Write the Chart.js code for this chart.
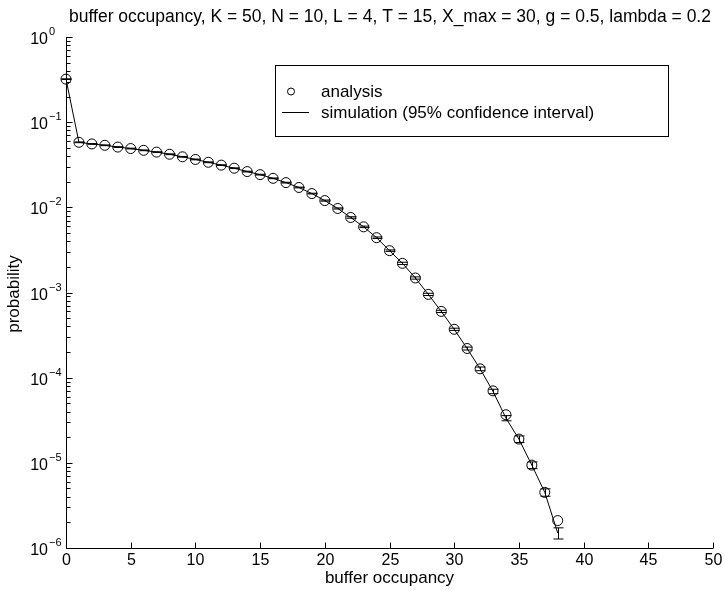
<!DOCTYPE html>
<html>
<head>
<meta charset="utf-8">
<script src="https://cdn.jsdelivr.net/npm/chart.js@4/dist/chart.umd.min.js"></script>
<style>
body{margin:0;background:#fff;}
</style>
</head>
<body>
<canvas id="chart" width="725" height="590"></canvas>
<script>

const occupancy = [0,1,2,3,4,5,6,7,8,9,10,11,12,13,14,15,16,17,18,19,20,21,22,23,24,25,26,27,28,29,30,31,32,33,34,35,36,37,38];

const analysis = [0.32,0.058,0.0555,0.0535,0.051,0.049,0.0467,0.0445,0.042,0.0392,
0.0365,0.0338,0.0313,0.0288,0.0263,0.0242,0.0219,0.0195,0.0171,0.0145,
0.012,0.0097,0.0076,0.0059,0.0044,0.0031,0.0022,0.00148,0.00095,0.0006,
0.00037,0.00022,0.000127,0.00007,0.0000367,0.000019,0.0000094,0.0000045,0.0000021];

const simulation = [0.32,0.058,0.0555,0.0535,0.051,0.049,0.0467,0.0445,0.042,0.0392,
0.0365,0.0338,0.0313,0.0288,0.0263,0.0242,0.0219,0.0195,0.0171,0.0145,
0.012,0.0097,0.0076,0.0059,0.0044,0.0031,0.0022,0.00148,0.00095,0.0006,
0.00037,0.00022,0.000127,0.000069,0.0000335,0.000019,0.0000094,0.0000045,0.0000015];

// half width of the confidence interval, relative to the simulated value
const simErr = [0.01,0.01,0.01,0.01,0.01,0.01,0.01,0.01,0.01,0.01,
0.01,0.01,0.01,0.01,0.01,0.01,0.01,0.01,0.01,0.01,
0.015,0.015,0.02,0.02,0.02,0.02,0.03,0.03,0.03,0.03,
0.03,0.04,0.05,0.06,0.07,0.09,0.09,0.1,0.15];

const xTicks = [0,5,10,15,20,25,30,35,40,45,50];
const yDecades = [0,-1,-2,-3,-4,-5,-6];

const FONT = "'Liberation Sans', Arial, Helvetica, sans-serif";

const simPoints = occupancy.map((x,i)=>({x:x,y:simulation[i]}));
const anaPoints = occupancy.map((x,i)=>({x:x,y:analysis[i]}));

const matlabLook = {
id:"matlabLook",
afterDatasetsDraw(chart){
const ctx = chart.ctx;
const xs = chart.scales.x;
const ys = chart.scales.y;
const area = chart.chartArea;
ctx.save();
ctx.beginPath();
ctx.rect(area.left-6, area.top, area.right-area.left+12, area.bottom-area.top);
ctx.clip();
ctx.strokeStyle = "#000";
ctx.lineWidth = 1;
occupancy.forEach((x,i)=>{
const px = Math.round(xs.getPixelForValue(x))+0.5;
const yLo = ys.getPixelForValue(simulation[i]*(1-simErr[i]));
const yHi = ys.getPixelForValue(simulation[i]*(1+simErr[i]));
ctx.beginPath();
ctx.moveTo(px,yLo); ctx.lineTo(px,yHi);
ctx.moveTo(px-5,yLo); ctx.lineTo(px+5,yLo);
ctx.moveTo(px-5,yHi); ctx.lineTo(px+5,yHi);
ctx.stroke();
});
ctx.restore();
},
afterDraw(chart){
const ctx = chart.ctx;
const xs = chart.scales.x;
const ys = chart.scales.y;
const area = chart.chartArea;
const L = Math.round(area.left)+0.5;
const B = Math.round(area.bottom)+0.5;
ctx.save();
ctx.strokeStyle = "#000";
ctx.fillStyle = "#000";
ctx.lineWidth = 1;

/* axes */
ctx.beginPath();
ctx.moveTo(L, area.top); ctx.lineTo(L, B); ctx.lineTo(area.right, B);
ctx.stroke();

/* x ticks */
ctx.font = "16px " + FONT;
ctx.textAlign = "center";
ctx.textBaseline = "alphabetic";
xTicks.forEach(v=>{
const px = Math.round(xs.getPixelForValue(v))+0.5;
ctx.beginPath(); ctx.moveTo(px,B); ctx.lineTo(px,B-6); ctx.stroke();
ctx.fillText(String(v), px, 565);
});

/* y ticks, log */
yDecades.forEach(d=>{
const py = Math.round(ys.getPixelForValue(Math.pow(10,d)))+0.5;
ctx.beginPath(); ctx.moveTo(L,py); ctx.lineTo(L+6,py); ctx.stroke();
if(d > -6){
for(let m=2;m<=9;m++){
const my = Math.round(ys.getPixelForValue(m*Math.pow(10,d-1)))+0.5;
ctx.beginPath(); ctx.moveTo(L,my); ctx.lineTo(L+4,my); ctx.stroke();
}
}
ctx.font = "16px " + FONT;
ctx.textAlign = "right";
ctx.textBaseline = "middle";
ctx.fillText("10", 48, py+2);
ctx.font = "11px " + FONT;
ctx.textAlign = "left";
ctx.fillText(d===0 ? "0" : "\u2212"+(-d), 49, py-6);
});

/* title and axis labels */
ctx.font = "17.5px " + FONT;
ctx.textAlign = "center";
ctx.textBaseline = "alphabetic";
ctx.fillText("buffer occupancy, K = 50, N = 10, L = 4, T = 15, X_max = 30, g = 0.5, lambda = 0.2", 390, 22);
ctx.font = "17px " + FONT;
ctx.fillText("buffer occupancy", (area.left+area.right)/2, 583);
ctx.save();
ctx.translate(14, 294);
ctx.rotate(-Math.PI/2);
ctx.textBaseline = "middle";
ctx.fillText("probability", 0, 0);
ctx.restore();

/* legend */
ctx.fillStyle = "#fff";
ctx.fillRect(275.5, 65.5, 393, 71);
ctx.strokeRect(275.5, 65.5, 393, 71);
ctx.fillStyle = "#000";
ctx.beginPath(); ctx.arc(291, 91.5, 3.5, 0, Math.PI*2); ctx.stroke();
ctx.beginPath(); ctx.moveTo(282, 112.5); ctx.lineTo(309, 112.5); ctx.stroke();
ctx.font = "17px " + FONT;
ctx.textAlign = "left";
ctx.textBaseline = "middle";
ctx.fillText("analysis", 321, 92);
ctx.fillText("simulation (95% confidence interval)", 321, 113);

ctx.restore();
}
};

new Chart(document.getElementById("chart"),{
type:"scatter",
data:{
datasets:[
{
label:"simulation (95% confidence interval)",
data:simPoints,
showLine:true,
borderColor:"#000",
borderWidth:1,
pointRadius:0,
tension:0
},
{
label:"analysis",
data:anaPoints,
showLine:false,
pointStyle:"circle",
pointRadius:5,
borderColor:"#000",
borderWidth:1,
backgroundColor:"rgba(0,0,0,0)",
clip:false
}
]
},
options:{
responsive:false,
animation:false,
devicePixelRatio:1,
layout:{padding:{left:0,right:12,top:37,bottom:0}},
plugins:{legend:{display:false},tooltip:{enabled:false}},
scales:{
x:{
type:"linear",min:0,max:50,
grid:{display:false,drawTicks:false},
border:{display:false},
ticks:{display:false},
afterFit(s){s.height=42;}
},
y:{
type:"logarithmic",min:1e-6,max:1,
grid:{display:false,drawTicks:false},
border:{display:false},
ticks:{display:false},
afterFit(s){s.width=66;}
}
}
},
plugins:[matlabLook]
});

</script>
</body>
</html>
